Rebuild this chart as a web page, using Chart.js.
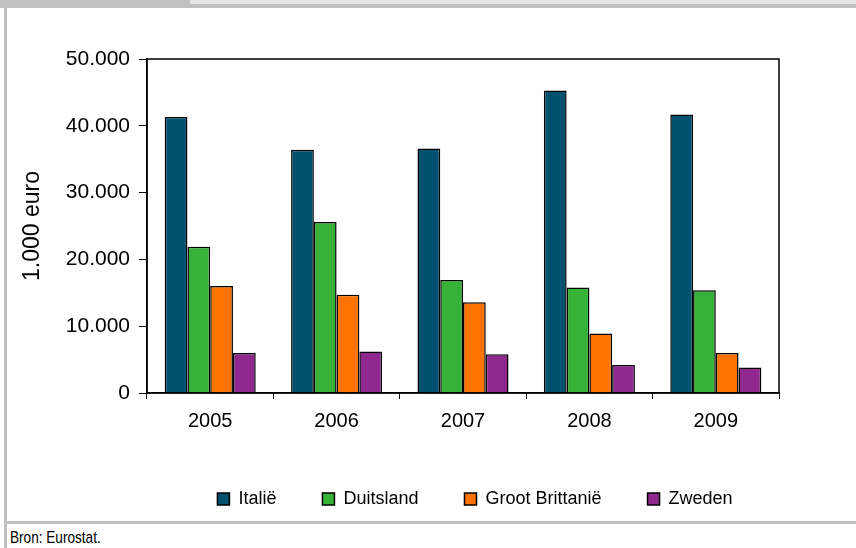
<!DOCTYPE html>
<html>
<head>
<meta charset="utf-8">
<script src="https://cdn.jsdelivr.net/npm/chart.js@4"></script>
<style>
  body { margin: 0; width: 856px; height: 548px; background: #fff; position: relative; overflow: hidden; font-family: "Liberation Sans", Arial, sans-serif; }
  .band-light { position: absolute; left: 0; top: 0; width: 856px; height: 4px; background: #e6e6e6; }
  .band-dark { position: absolute; left: 0; top: 0; width: 190px; height: 8px; background: #c0c0c0; }
  .band-line { position: absolute; left: 0; top: 4px; width: 856px; height: 4px; background: #c0c0c0; }
  .left-line { position: absolute; left: 4px; top: 0; width: 3px; height: 548px; background: #c0c0c0; }
  .bottom-line { position: absolute; left: 4px; top: 521px; width: 852px; height: 3px; background: #c0c0c0; }
  .source { position: absolute; left: 10px; top: 528px; font-size: 17px; color: #000; transform: scaleX(0.8); transform-origin: left top; white-space: nowrap; }
  .wrap { position: absolute; left: 8px; top: 8px; width: 848px; height: 513px; }
</style>
</head>
<body>
<div class="band-light"></div>
<div class="band-line"></div>
<div class="band-dark"></div>
<div class="left-line"></div>
<div class="bottom-line"></div>
<div class="wrap"><canvas id="chart"></canvas></div>
<div class="source">Bron: Eurostat.</div>
<script>
const years = ["2005", "2006", "2007", "2008", "2009"];
const italie = [41300, 36400, 36600, 45300, 41700];
const duitsland = [21900, 25600, 16900, 15800, 15400];
const grootBrittanie = [16000, 14700, 13600, 8900, 6000];
const zweden = [6000, 6200, 5800, 4200, 3800];
const yTickLabels = ["0", "10.000", "20.000", "30.000", "40.000", "50.000"];

Chart.defaults.font.family = "'Liberation Sans', Arial, sans-serif";
Chart.defaults.color = "#000";

// black frame round the plot area, legend nudged right like the original
const frame = {
  id: "frame",
  afterLayout(chart) {
    chart.legend.left += 12;
    chart.legend.right += 12;
  },
  afterDraw(chart) {
    const { ctx, chartArea: a } = chart;
    ctx.save();
    ctx.strokeStyle = "#000";
    ctx.lineWidth = 1.5;
    ctx.strokeRect(a.left, a.top, a.right - a.left, a.bottom - a.top);
    ctx.restore();
  },
};

function series(label, data, color) {
  return { label, data, backgroundColor: color, borderColor: "#000", borderWidth: 1.5 };
}

new Chart(document.getElementById("chart"), {
  type: "bar",
  data: {
    labels: years,
    datasets: [
      series("Italië", italie, "#00526f"),
      series("Duitsland", duitsland, "#36b236"),
      series("Groot Brittanië", grootBrittanie, "#ff7300"),
      series("Zweden", zweden, "#8f288f"),
    ],
  },
  options: {
    responsive: true,
    maintainAspectRatio: false,
    animation: false,
    categoryPercentage: 0.72,
    barPercentage: 1,
    layout: { padding: { top: 51, right: 77, bottom: 3, left: 0 } },
    plugins: {
      tooltip: { enabled: false },
      legend: {
        position: "bottom",
        fullSize: false,
        labels: { boxWidth: 12, boxHeight: 12, padding: 46, font: { size: 18 } },
      },
    },
    scales: {
      x: {
        afterFit: (s) => { s.height = 51; },
        grid: { drawOnChartArea: false, color: "#000", tickLength: 6 },
        border: { color: "#000", width: 1.5 },
        ticks: { font: { size: 20 }, padding: 10 },
      },
      y: {
        min: 0,
        max: 50000,
        afterFit: (s) => { s.width = 139; },
        grid: { drawOnChartArea: false, color: "#000", tickLength: 8 },
        border: { color: "#000", width: 1.5 },
        ticks: {
          stepSize: 10000,
          font: { size: 21 },
          padding: 9,
          callback: (v, i) => yTickLabels[i],
        },
        title: { display: true, text: "1.000 euro", font: { size: 23 }, padding: { top: 11 } },
      },
    },
  },
  plugins: [frame],
});
</script>
</body>
</html>
